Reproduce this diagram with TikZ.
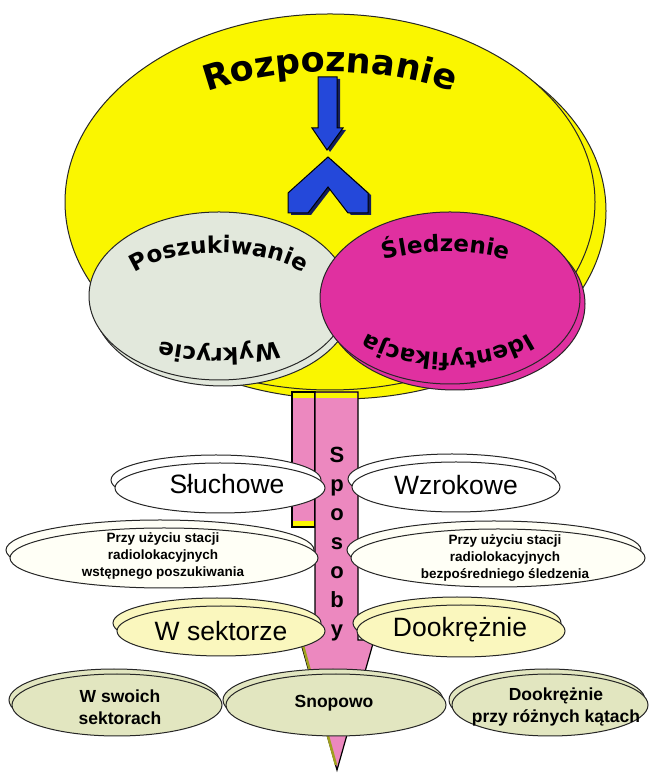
\documentclass[tikz,border=0pt]{standalone}
\usepackage{fontspec}
\setmainfont{Liberation Sans}
\newfontfamily\curvefont{DejaVu Sans}
\usetikzlibrary{decorations.text,calc}
\definecolor{yel}{RGB}{250,246,0}
\definecolor{grayfill}{RGB}{226,232,220}
\definecolor{mag}{RGB}{224,48,160}
\definecolor{bluec}{RGB}{36,72,218}
\definecolor{bluesh}{RGB}{20,30,90}
\definecolor{pinkc}{RGB}{236,136,191}
\definecolor{paleyel}{RGB}{250,247,190}
\definecolor{creamw}{RGB}{255,255,246}
\definecolor{row4}{RGB}{226,230,192}
\definecolor{olivec}{RGB}{160,160,30}
\def\cfA{\curvefont\bfseries\fontsize{35}{35}\selectfont}
\def\cfB{\curvefont\bfseries\fontsize{23}{23}\selectfont}
\newcommand\mydisc[7]{%
  \filldraw[discline, fill=#5] ({#1+#6},{#2+#7}) ellipse [x radius=#3, y radius=#4];
  \filldraw[discline, fill=#5] (#1,#2) ellipse [x radius=#3, y radius=#4];}
\begin{document}
\begin{tikzpicture}[x=1pt,y=1pt,
  discline/.style={draw=black!85, line width=1pt},
  midtext/.style={inner sep=0pt, font=\fontsize{26.5}{28}\selectfont},
  smalltext/.style={inner sep=0pt, align=center, font=\bfseries\fontsize{13.5}{17}\selectfont},
  row4text/.style={inner sep=0pt, align=center, font=\bfseries\fontsize{17.5}{22}\selectfont},
  lett/.style={inner sep=0pt, anchor=base, font=\bfseries\fontsize{22}{22}\selectfont},
  curved/.style={decorate, decoration={text along path, text align=center, text={#1}}}]
\useasboundingbox (0,0) rectangle (650,773);
\fill[white] (0,0) rectangle (650,773);
% top: yellow
\mydisc{330}{571}{265}{188}{yel}{11}{-9}
% blue arrows
\fill[bluesh] (321,694) -- (340,694) -- (340,643) -- (346,643) -- (330,621) -- (315,643) -- (321,643) -- cycle;
\filldraw[fill=bluec, draw=black, line width=1pt] (318,696) -- (337,696) -- (337,645) -- (343,645) -- (327,623) -- (312,645) -- (318,645) -- cycle;
\fill[bluesh] (331,614) -- (371,578) -- (371,558) -- (351,558) -- (331,584) -- (311,558) -- (291,558) -- (291,578) -- cycle;
\filldraw[fill=bluec, draw=black, line width=1pt] (328,616) -- (368,580) -- (368,560) -- (348,560) -- (328,586) -- (308,560) -- (288,560) -- (288,580) -- cycle;
\path[curved={|\cfA|Rozpoznanie}] ($(330,571)+(155:230 and 130)$) arc[start angle=155, end angle=25, x radius=230, y radius=130];
% gray and magenta discs
\mydisc{219}{477}{130}{84}{grayfill}{4}{-6}
\mydisc{450}{475}{130}{86}{mag}{5}{-6}
\path[curved={|\cfB|Poszukiwanie}] ($(219,477)+(170:100 and 43)$) arc[start angle=170, end angle=10, x radius=100, y radius=43];
\path[curved={|\cfB|Wykrycie}] ($(219,477)+(-10:120 and 52)$) arc[start angle=-10, end angle=-170, x radius=120, y radius=52];
\path[curved={|\cfB|Śledzenie}] ($(446,475)+(170:110 and 46)$) arc[start angle=170, end angle=10, x radius=110, y radius=46];
\path[curved={|\cfB|Identyfikacja}] ($(448,475)+(-5:105 and 55)$) arc[start angle=-5, end angle=-175, x radius=105, y radius=55];
% pink arrow "Sposoby"
\filldraw[fill=pinkc, draw=black, line width=1.2pt] (292,381) rectangle (315,246);
\fill[yel] (293,380) rectangle (314,375);
\fill[yel] (293,252) rectangle (314,247);
\filldraw[fill=pinkc, draw=black, line width=1.2pt] (315,381) -- (358,381) -- (358,133) -- (374,133) -- (337,3) -- (300,133) -- (315,133) -- cycle;
\fill[yel] (316,380) rectangle (357,375);
\draw[olivec, line width=2.5pt] (302,131) -- (336,8);
% row 1
\mydisc{220}{285}{105}{25}{white}{-4}{8}
\mydisc{456}{286}{104}{25}{white}{-4}{8}
% row 2
\mydisc{164}{215}{154}{30}{creamw}{-4}{8}
\mydisc{498}{215}{147}{29}{creamw}{-4}{8}
% row 3
\mydisc{221}{142}{104}{25}{paleyel}{-4}{8}
\mydisc{461}{142}{104}{26}{paleyel}{-4}{8}
% row 4
\mydisc{117}{68}{105}{31}{row4}{-3}{5}
\mydisc{336}{68}{110}{31}{row4}{-3}{5}
\mydisc{550}{68}{98}{31}{row4}{-3}{5}
% texts
\node[midtext] (sl) at (227,289) {Słuchowe};
\node[midtext] (wz) at (456,288) {Wzrokowe};
\node[smalltext] (p1) at (163,217) {Przy użyciu stacji\\radiolokacyjnych\\wstępnego poszukiwania};
\node[smalltext] (p2) at (505,215) {Przy użyciu stacji\\radiolokacyjnych\\bezpośredniego śledzenia};
\node[midtext] (ws) at (221,142) {W sektorze};
\node[midtext] (dk) at (460,143) {Dookrężnie};
\node[row4text] (sw) at (120,66) {W swoich\\sektorach};
\node[row4text] (sn) at (334,70) {Snopowo};
\node[row4text] (dp) at (556,66) {Dookrężnie\\przy różnych kątach};
% Sposoby letters
\node[lett] (l1) at (337,310) {S};
\node[lett] (l2) at (337,281) {p};
\node[lett] (l3) at (337,252) {o};
\node[lett] (l4) at (337,223) {s};
\node[lett] (l5) at (337,194) {o};
\node[lett] (l6) at (337,165) {b};
\node[lett] (l7) at (337,136) {y};
\end{tikzpicture}
\end{document}
